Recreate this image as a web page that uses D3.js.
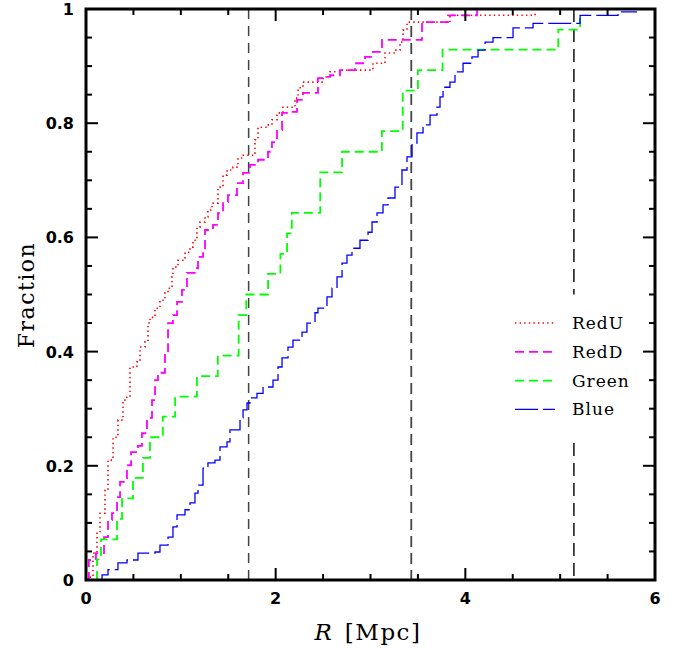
<!DOCTYPE html>
<html>
<head>
<meta charset="utf-8">
<script src="https://cdn.jsdelivr.net/npm/d3@7"></script>
<style>
  body { margin: 0; background: #fff; }
  svg { display: block; }
</style>
</head>
<body>
<script>

// cumulative fractions as [R (Mpc), fraction] step points
const redU = [[0.02,0],[0.02,0.005],[0.074,0.047],[0.116,0.082],[0.148,0.117],[0.20,0.158],[0.232,0.21],[0.285,0.25],
  [0.337,0.28],[0.39,0.315],[0.43,0.32],[0.464,0.373],[0.538,0.382],[0.57,0.408],[0.622,0.417],[0.654,0.45],[0.675,0.46],
  [0.728,0.476],[0.78,0.49],[0.833,0.503],[0.865,0.511],[0.907,0.531],[0.917,0.548],[0.97,0.56],[1.044,0.574],[1.097,0.583],
  [1.128,0.595],[1.17,0.618],[1.202,0.627],[1.255,0.636],[1.286,0.648],[1.329,0.66],[1.392,0.688],[1.445,0.709],[1.487,0.718],
  [1.55,0.723],[1.603,0.739],[1.656,0.744],[1.782,0.771],[1.814,0.793],[1.909,0.797],[1.961,0.806],[2.014,0.818],[2.077,0.828],
  [2.204,0.844],[2.236,0.862],[2.288,0.872],[2.5,0.881],[2.573,0.89],[2.678,0.893],[3.026,0.905],[3.153,0.923],[3.258,0.928],
  [3.311,0.942],[3.343,0.963],[3.385,0.977],[3.838,0.989],[4.735,0.993]]

const redD = [[0.02,0],[0.03,0.035],[0.105,0.047],[0.19,0.075],[0.232,0.105],[0.274,0.117],[0.327,0.145],[0.359,0.172],
  [0.432,0.201],[0.475,0.224],[0.548,0.235],[0.59,0.257],[0.643,0.284],[0.696,0.315],[0.728,0.35],[0.759,0.363],[0.833,0.399],
  [0.865,0.45],[0.917,0.464],[0.96,0.487],[1.012,0.508],[1.065,0.538],[1.17,0.546],[1.181,0.566],[1.234,0.581],[1.255,0.613],
  [1.339,0.622],[1.392,0.643],[1.445,0.662],[1.497,0.674],[1.592,0.695],[1.656,0.713],[1.729,0.727],[1.814,0.736],[1.919,0.75],
  [1.961,0.767],[2.014,0.788],[2.067,0.818],[2.151,0.82],[2.225,0.841],[2.288,0.853],[2.446,0.879],[2.5,0.881],[2.573,0.884],
  [2.678,0.893],[2.837,0.905],[2.942,0.916],[3.026,0.925],[3.121,0.946],[3.543,0.977],[3.817,0.989],[4.123,0.998]]

const green = [[0.116,0],[0.116,0.036],[0.158,0.071],[0.327,0.107],[0.38,0.143],[0.496,0.179],[0.60,0.214],[0.675,0.25],
  [0.81,0.286],[0.94,0.321],[1.17,0.357],[1.39,0.393],[1.61,0.464],[1.69,0.5],[1.92,0.536],[2.05,0.571],[2.12,0.607],
  [2.17,0.643],[2.47,0.714],[2.70,0.75],[3.12,0.786],[3.34,0.857],[3.50,0.893],[3.76,0.929],[4.98,0.964],[5.21,0.99]]

const blue = [[0.116,0],[0.169,0.009],[0.232,0.018],[0.337,0.03],[0.432,0.035],[0.548,0.047],[0.728,0.049],[0.78,0.061],
  [0.865,0.075],[0.917,0.093],[0.96,0.114],[1.044,0.123],[1.097,0.135],[1.149,0.152],[1.181,0.166],[1.234,0.196],[1.286,0.205],
  [1.36,0.21],[1.413,0.233],[1.487,0.242],[1.518,0.263],[1.624,0.284],[1.656,0.298],[1.698,0.31],[1.729,0.319],[1.803,0.327],
  [1.867,0.338],[1.972,0.35],[2.025,0.373],[2.067,0.389],[2.13,0.408],[2.183,0.42],[2.278,0.434],[2.33,0.45],[2.415,0.468],
  [2.446,0.476],[2.541,0.496],[2.594,0.511],[2.647,0.531],[2.70,0.555],[2.752,0.569],[2.805,0.581],[2.889,0.595],[2.974,0.609],
  [3.016,0.627],[3.069,0.643],[3.132,0.657],[3.185,0.669],[3.258,0.688],[3.332,0.718],[3.385,0.741],[3.438,0.765],[3.49,0.783],
  [3.554,0.797],[3.628,0.814],[3.701,0.828],[3.733,0.846],[3.765,0.863],[3.838,0.872],[3.891,0.89],[3.976,0.905],[4.07,0.916],
  [4.134,0.928],[4.208,0.942],[4.292,0.95],[4.503,0.967],[4.714,0.975],[5.21,0.989],[5.61,0.995],[5.81,0.995]]

const seriesNames = ["RedU", "RedD", "Green", "Blue"]
const seriesData = [redU, redD, green, blue]

// vertical reference radii
const refLines = [1.715, 3.43, 5.145]

const xTicks = [0, 2, 4, 6]
const yTicks = [0, 0.2, 0.4, 0.6, 0.8, 1]

const width = 686, height = 648
const margin = {left: 86, top: 9, right: 31, bottom: 68}

const styles = {
  RedU:  {color: "#ff0000", dash: "1.4,3.2", w: 1.6},
  RedD:  {color: "#ff00ff", dash: "9,5", w: 1.8},
  Green: {color: "#00ff00", dash: "9,5", w: 1.8},
  Blue:  {color: "#0000ff", dash: "23,5", w: 1.3}
}

const svg = d3.select('body').append('svg')
  .attr('width', width)
  .attr('height', height)

const x = d3.scaleLinear().domain([0, 6]).range([margin.left, width - margin.right])
const y = d3.scaleLinear().domain([0, 1]).range([height - margin.bottom, margin.top])

// reference lines (the last one stops behind the legend)
svg.append('line')
  .attr('x1', x(refLines[0])).attr('x2', x(refLines[0]))
  .attr('y1', y(1)).attr('y2', y(0))
  .attr('stroke', '#444').attr('stroke-width', 1.5).attr('stroke-dasharray', '10,7')
svg.append('line')
  .attr('x1', x(refLines[1])).attr('x2', x(refLines[1]))
  .attr('y1', y(1)).attr('y2', y(0))
  .attr('stroke', '#444').attr('stroke-width', 1.8).attr('stroke-dasharray', '11,6')
svg.append('line')
  .attr('x1', x(refLines[2])).attr('x2', x(refLines[2]))
  .attr('y1', y(1)).attr('y2', y(0.5))
  .attr('stroke', '#000').attr('stroke-width', 1.4).attr('stroke-dasharray', '13,7')
svg.append('line')
  .attr('x1', x(refLines[2])).attr('x2', x(refLines[2]))
  .attr('y1', y(0.24)).attr('y2', y(0))
  .attr('stroke', '#000').attr('stroke-width', 1.4).attr('stroke-dasharray', '13,7')

const line = d3.line()
  .x(d => x(d[0]))
  .y(d => y(d[1]))
  .curve(d3.curveStepAfter)

svg.append('g')
  .selectAll('path')
  .data(seriesData)
  .join('path')
  .attr('d', d => line(d))
  .attr('fill', 'none')
  .attr('stroke', (d, i) => styles[seriesNames[i]].color)
  .attr('stroke-width', (d, i) => styles[seriesNames[i]].w)
  .attr('stroke-dasharray', (d, i) => styles[seriesNames[i]].dash)

// ticks on all four sides, pointing inward
const tickG = svg.append('g').attr('stroke', '#000').attr('stroke-width', 2)
d3.range(0, 6.001, 0.5).forEach(v => {
  const len = (Math.abs(v % 2) < 1e-6) ? 12 : 6
  tickG.append('line').attr('x1', x(v)).attr('x2', x(v)).attr('y1', y(0)).attr('y2', y(0) - len)
  tickG.append('line').attr('x1', x(v)).attr('x2', x(v)).attr('y1', y(1)).attr('y2', y(1) + len)
})
d3.range(0, 1.0001, 0.05).forEach(v => {
  const len = (Math.abs(Math.round(v * 100) % 20) < 1e-6) ? 12 : 6
  tickG.append('line').attr('x1', x(0)).attr('x2', x(0) + len).attr('y1', y(v)).attr('y2', y(v))
  tickG.append('line').attr('x1', x(6)).attr('x2', x(6) - len).attr('y1', y(v)).attr('y2', y(v))
})

// frame
svg.append('rect')
  .attr('x', x(0)).attr('y', y(1))
  .attr('width', x(6) - x(0)).attr('height', y(0) - y(1))
  .attr('fill', 'none').attr('stroke', '#000').attr('stroke-width', 3)

// tick labels
svg.append('g')
  .selectAll('text')
  .data(xTicks)
  .join('text')
  .attr('x', d => x(d))
  .attr('y', y(0) + 24)
  .attr('text-anchor', 'middle')
  .style('font-family', 'DejaVu Sans')
  .style('font-size', '16px')
  .style('font-weight', 'bold')
  .text(d => d)

svg.append('g')
  .selectAll('text')
  .data(yTicks)
  .join('text')
  .attr('x', x(0) - 12)
  .attr('y', d => y(d) + 6)
  .attr('text-anchor', 'end')
  .style('font-family', 'DejaVu Sans')
  .style('font-size', '16px')
  .style('font-weight', 'bold')
  .text(d => d)

// axis titles
const xTitle = svg.append('text')
  .attr('x', 368)
  .attr('y', 640)
  .attr('text-anchor', 'middle')
  .style('font-family', 'DejaVu Serif')
  .style('font-size', '23px')
xTitle.append('tspan').style('font-style', 'italic').text('R')
xTitle.append('tspan').attr('dx', 13).style('letter-spacing', '1.5px').text('[Mpc]')

svg.append('text')
  .attr('transform', 'translate(34,295) rotate(-90)')
  .attr('text-anchor', 'middle')
  .style('font-family', 'DejaVu Serif')
  .style('font-size', '22px')
  .style('letter-spacing', '1.5px')
  .text('Fraction')

// legend
const legend = svg.append('g')
  .selectAll('g')
  .data(seriesNames)
  .join('g')
  .attr('transform', (d, i) => 'translate(515,' + (323 + i * 28.8) + ')')

legend.append('line')
  .attr('x1', 0).attr('x2', 40).attr('y1', 0).attr('y2', 0)
  .attr('stroke', d => styles[d].color)
  .attr('stroke-width', d => styles[d].w)
  .attr('stroke-dasharray', d => styles[d].dash)

legend.append('text')
  .attr('x', 57)
  .attr('y', 6)
  .style('font-family', 'DejaVu Serif')
  .style('font-size', '17px')
  .style('letter-spacing', '1px')
  .text(d => d)

</script>
</body>
</html>
